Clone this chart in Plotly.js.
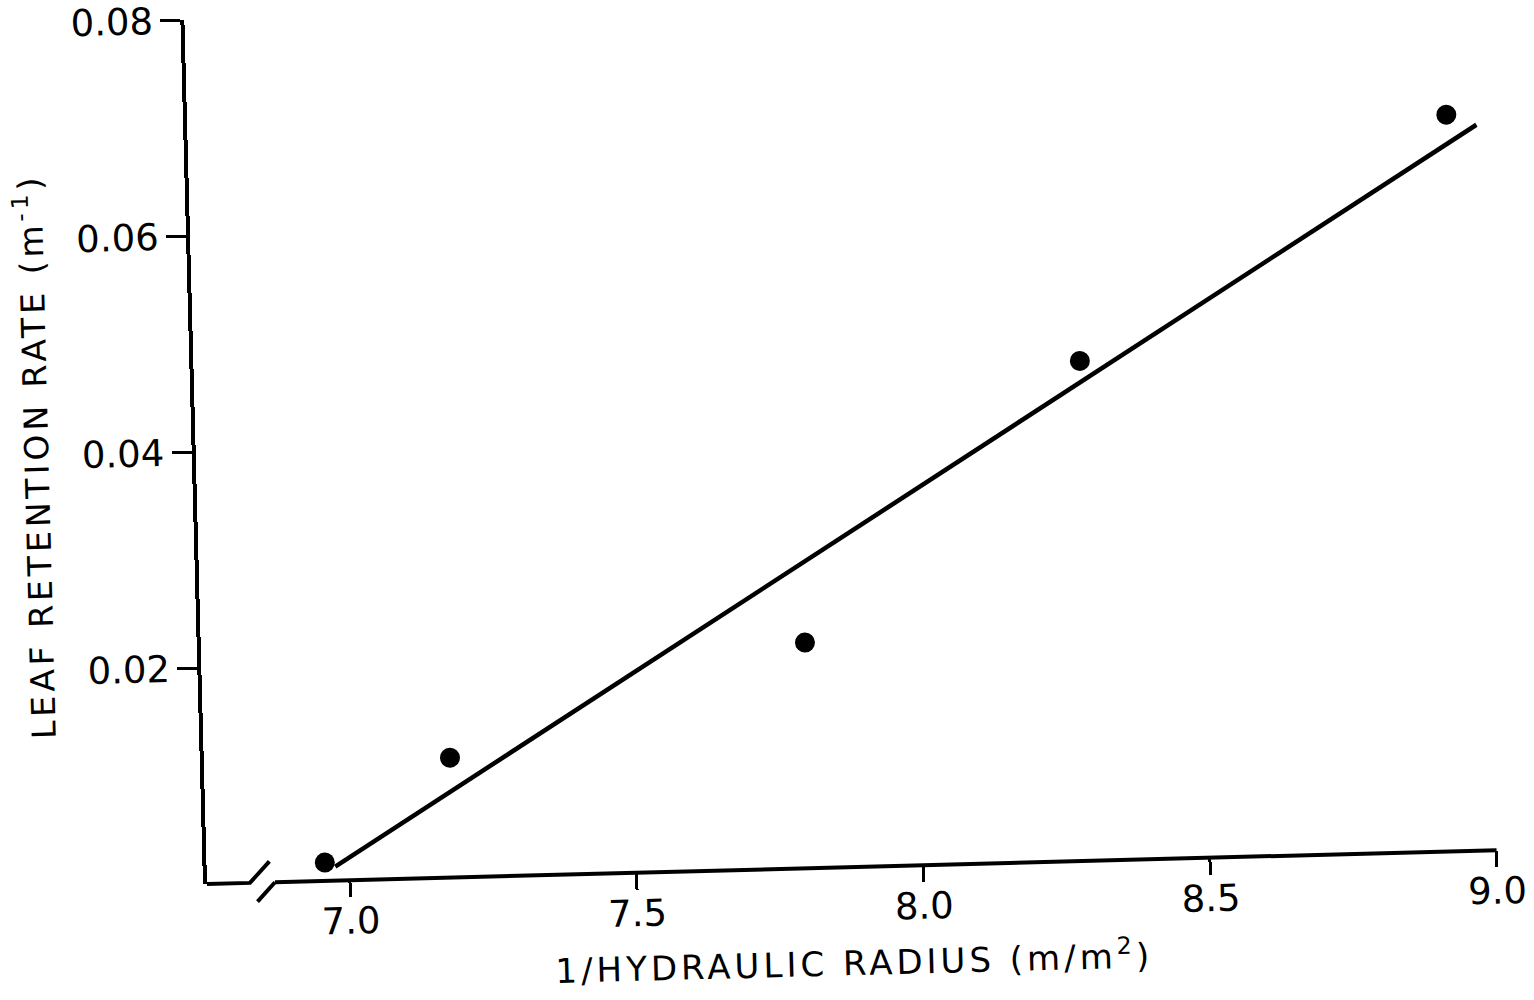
<!DOCTYPE html>
<html>
<head>
<meta charset="utf-8">
<script src="https://cdn.plot.ly/plotly-3.0.1.min.js"></script>
<style>
  html, body { margin: 0; padding: 0; background: #ffffff; overflow: hidden; }
  #chart { width: 1534px; height: 1000px; transform: rotate(-1.5deg); transform-origin: 207px 884px; }
</style>
</head>
<body>
<div id="chart"></div>
<script>
// Observed data: 1/hydraulic radius vs leaf retention rate
const invHydraulicRadius = [6.957, 7.18, 7.804, 8.296, 8.946];
const leafRetentionRate = [0.0017, 0.0111, 0.0209, 0.0463, 0.0682];

// Fitted regression line end points
const fitX = [6.975, 8.998];
const fitY = [0.0013, 0.0672];

// Axis ticks
const xTickVals = [7.0, 7.5, 8.0, 8.5, 9.0];
const xTickText = ["7.0", "7.5", "8.0", "8.5", "9.0"];
const yTickVals = [0.02, 0.04, 0.06, 0.08];
const yTickText = ["0.02", "0.04", "0.06", "0.08"];

const FONT = "DejaVu Sans, Liberation Sans, sans-serif";

const traces = [
  {
    x: fitX, y: fitY, type: "scatter", mode: "lines",
    line: { color: "#000000", width: 4.5 },
    hoverinfo: "skip", showlegend: false, cliponaxis: false
  },
  {
    x: invHydraulicRadius, y: leafRetentionRate, type: "scatter", mode: "markers",
    marker: { color: "#000000", size: 20, line: { width: 0 } },
    showlegend: false, cliponaxis: false
  }
];

const layout = {
  width: 1534, height: 1000,
  paper_bgcolor: "#ffffff", plot_bgcolor: "#ffffff",
  margin: { l: 207, r: 37, t: 20, b: 116, pad: 0 },
  showlegend: false,
  font: { family: FONT, color: "#000000" },
  xaxis: {
    range: [6.7507, 9.0],
    tickmode: "array", tickvals: xTickVals, ticktext: xTickText,
    ticks: "outside", ticklen: 16, tickwidth: 3, tickcolor: "#000000",
    ticklabelstandoff: -8, ticklabeloverflow: "allow",
    showline: false, showgrid: false, zeroline: false,
    tickfont: { family: FONT, size: 37, color: "#000000" },
    title: { text: "1/HYDRAULIC RADIUS (m/m<sup>2</sup>)", font: { family: FONT, size: 34, color: "#000000" }, standoff: 26 },
    automargin: false
  },
  yaxis: {
    range: [0, 0.08],
    tickmode: "array", tickvals: yTickVals, ticktext: yTickText,
    ticks: "outside", ticklen: 20, tickwidth: 3, tickcolor: "#000000",
    ticklabeloverflow: "allow",
    showline: true, linecolor: "#000000", linewidth: 4,
    showgrid: false, zeroline: false,
    tickfont: { family: FONT, size: 37, color: "#000000" },
    title: { text: "LEAF RETENTION RATE (m<sup>-1</sup>)", font: { family: FONT, size: 33, color: "#000000" }, standoff: 24 },
    automargin: false
  },
  shapes: [
    // x axis line starting after the break
    { type: "line", xref: "paper", yref: "paper", x0: 0.0527, y0: 0, x1: 1, y1: 0,
      line: { color: "#000000", width: 4 } },
    // left stub of the x axis ending in a break slash
    { type: "path", xref: "paper", yref: "paper",
      path: "M 0 0 L 0.0333 0 L 0.0488 0.0243",
      line: { color: "#000000", width: 4 } },
    // right break slash
    { type: "line", xref: "paper", yref: "paper", x0: 0.0388, y0: -0.022, x1: 0.0527, y1: 0,
      line: { color: "#000000", width: 4 } }
  ]
};

Plotly.newPlot("chart", traces, layout, { displayModeBar: false, staticPlot: true }).then(function () {
  // widen the lettering of the axis titles like the typeset original
  document.querySelectorAll("#chart .g-xtitle text, #chart .g-ytitle text").forEach(function (t) {
    t.style.letterSpacing = "4px";
  });
});
</script>
</body>
</html>
